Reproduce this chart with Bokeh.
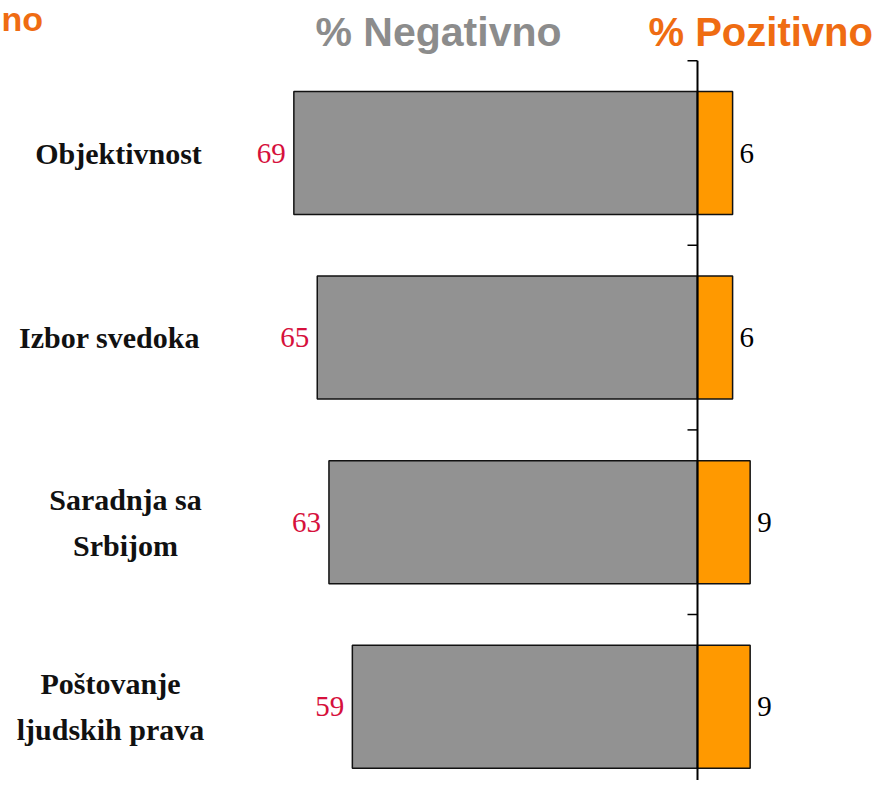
from bokeh.plotting import figure
from bokeh.models import Range1d, ColumnDataSource
from bokeh.core.properties import value
from bokeh.embed import file_html
from bokeh.resources import INLINE

# ---- data ----
categories = ["Objektivnost", "Izbor svedoka", "Saradnja sa\nSrbijom", "Poštovanje\nljudskih prava"]
negative = [69, 65, 63, 59]
positive = [6, 6, 9, 9]
title_neg = "% Negativno"
title_pos = "% Pozitivno"
fragment = "no"

# ---- layout helpers (pixel -> data) ----
W, H = 878, 780
PX_PER_UNIT = 5.85
ZERO_PX = 697
ROW0_PX = 152.5
ROW_PX = 184.6

def px2x(px):
    return (px - ZERO_PX) / PX_PER_UNIT

def px2y(py):
    return (py - ROW0_PX) / ROW_PX

p = figure(width=W, height=H, output_backend="svg", toolbar_location=None,
           x_range=Range1d(px2x(0), px2x(W)),
           y_range=Range1d(px2y(H), px2y(0)),
           min_border=0, min_border_left=0, min_border_right=0,
           min_border_top=0, min_border_bottom=0)
p.axis.visible = False
p.grid.visible = False
p.outline_line_color = None
p.background_fill_color = "white"
p.border_fill_color = "white"

idx = list(range(len(categories)))
src = ColumnDataSource(dict(
    y=idx,
    neg=[-v for v in negative],
    pos=positive,
    neg_txt=[str(v) for v in negative],
    pos_txt=[str(v) for v in positive],
    cat=categories,
))

bar_h = 123 / ROW_PX
p.hbar(y="y", left="neg", right=0, height=bar_h, source=src,
       fill_color="#929292", line_color="#111111", line_width=1.5)
p.hbar(y="y", left=0, right="pos", height=bar_h, source=src,
       fill_color="#ff9900", line_color="#111111", line_width=1.5)

# zero line with ticks at category boundaries
n = len(categories)
p.segment(x0=[0], y0=[-0.5], x1=[0], y1=[n - 0.5], line_color="black", line_width=2)
bounds = [i - 0.5 for i in range(n)]
p.segment(x0=[-10 / PX_PER_UNIT] * n, y0=bounds, x1=[0] * n, y1=bounds,
          line_color="black", line_width=1.5)

# value labels
p.text(x="neg", y="y", text="neg_txt", source=src, x_offset=-8,
       text_align="right", text_baseline="middle",
       text_font=value("Liberation Serif"), text_font_size="29px",
       text_color="#d6103c")
p.text(x="pos", y="y", text="pos_txt", source=src, x_offset=7,
       text_align="left", text_baseline="middle",
       text_font=value("Liberation Serif"), text_font_size="29px",
       text_color="black")

# category labels (blocks centred, right edge near x=203)
label_cx = [118, 109, 125, 110]
p.text(x=[px2x(c) for c in label_cx], y=idx, text=categories,
       text_align="center", text_baseline="middle",
       text_font=value("Liberation Serif"), text_font_style="bold",
       text_font_size="30px", text_color="#111111", text_line_height=1.4)

# titles
p.text(x=[px2x(315)], y=[px2y(31)], text=[title_neg], text_align="left",
       text_baseline="middle", text_font=value("Liberation Sans"),
       text_font_style="bold", text_font_size="41px", text_color="#8c8c8c")
p.text(x=[px2x(648)], y=[px2y(31)], text=[title_pos], text_align="left",
       text_baseline="middle", text_font=value("Liberation Sans"),
       text_font_style="bold", text_font_size="40px", text_color="#ef6c12")
p.text(x=[px2x(1)], y=[px2y(18)], text=[fragment], text_align="left",
       text_baseline="middle", text_font=value("Liberation Sans"),
       text_font_style="bold", text_font_size="34px", text_color="#ef6c12")

open("out.html", "w").write(file_html(p, INLINE))
